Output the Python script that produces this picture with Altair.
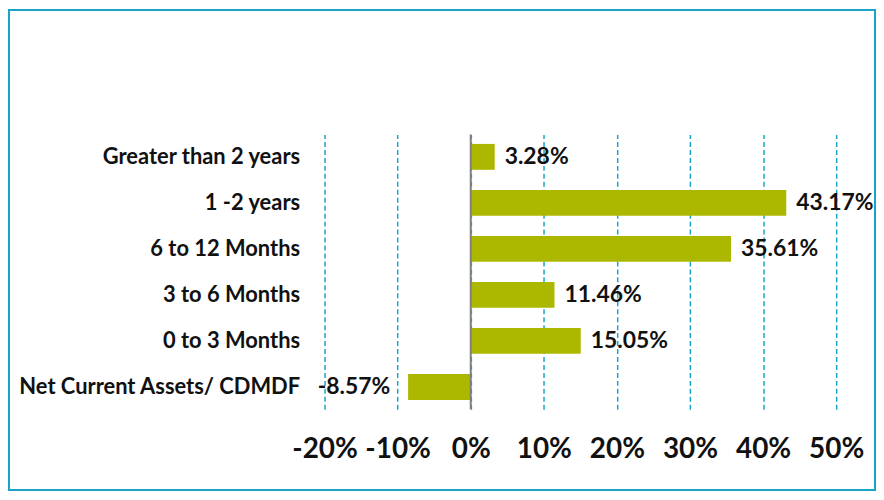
import altair as alt
import pandas as pd

categories = ["Greater than 2 years", "1 -2 years", "6 to 12 Months",
              "3 to 6 Months", "0 to 3 Months", "Net Current Assets/ CDMDF"]
values = [3.28, 43.17, 35.61, 11.46, 15.05, -8.57]
x_ticks = [-20, -10, 0, 10, 20, 30, 40, 50]

df = pd.DataFrame({"cat": categories, "v": values})

W, H = 514, 276
PL, PT, PR, PB = 318, 126, 40, 82
FONT = "Lato"

base = alt.Chart(df)

y_enc = alt.Y("cat:N", sort=categories, title=None,
              scale=alt.Scale(paddingInner=0.43, paddingOuter=0.2),
              axis=alt.Axis(ticks=False, domain=False, labelFontSize=22,
                            labelFont=FONT, labelFontWeight="bold",
                            labelColor="#111111", labelPadding=25,
                            labelLimit=400, grid=False))
x_enc = alt.X("v:Q", title=None,
              scale=alt.Scale(domain=[-20, 50], nice=False),
              axis=alt.Axis(values=x_ticks, labelExpr="datum.value + '%'",
                            ticks=False, domain=False, labelFontSize=28,
                            labelFont=FONT, labelFontWeight="bold",
                            labelOverlap=False, labelFlush=False,
                            labelColor="#111111", labelPadding=26,
                            grid=True, gridColor="#1aa6c8", gridWidth=1.5,
                            gridDash=[5, 3]))

bars = base.mark_bar(color="#acb800", size=26).encode(x=x_enc, y=y_enc)

zero = alt.Chart(pd.DataFrame({"z": [0]})).mark_rule(
    color="#808080", strokeWidth=2).encode(x="z:Q")

lab = "(datum.v < 0 ? '-' : '') + format(abs(datum.v), '.2f') + '%'"
pos = base.transform_filter("datum.v >= 0").transform_calculate(
    label=lab).mark_text(
    align="left", dx=10, fontSize=23, font=FONT, fontWeight="bold",
    color="#111111").encode(x="v:Q", y=alt.Y("cat:N", sort=categories),
                            text="label:N")
neg = base.transform_filter("datum.v < 0").transform_calculate(
    label=lab).mark_text(
    align="right", dx=-18, fontSize=23, font=FONT, fontWeight="bold",
    color="#111111").encode(x="v:Q", y=alt.Y("cat:N", sort=categories),
                            text="label:N")

frame = alt.Chart(pd.DataFrame({"a": [0]})).mark_rect(
    fill=None, stroke="#1ba3c6", strokeWidth=2).encode(
    x=alt.value(-PL + 1), x2=alt.value(W + PR - 1),
    y=alt.value(-PT + 1), y2=alt.value(H + PB - 1))

chart = alt.layer(bars, zero, pos, neg, frame).properties(
    width=W, height=H,
    padding={"left": PL, "top": PT, "right": PR, "bottom": PB},
    autosize=alt.AutoSizeParams(type="none"),
).configure(background="white").configure_view(stroke=None, strokeWidth=0)

chart.save("out.html", embed_options={"renderer": "svg", "actions": False})
